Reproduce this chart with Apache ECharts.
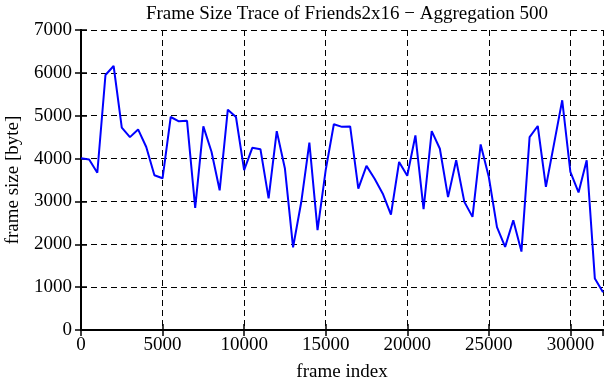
<!DOCTYPE html>
<html>
<head>
<meta charset="utf-8">
<script src="https://cdn.jsdelivr.net/npm/echarts@6/dist/echarts.min.js"></script>
<style>
  html, body { margin: 0; padding: 0; background: #fff; }
  #chart { width: 611px; height: 380px; }
</style>
</head>
<body>
<div id="chart"></div>
<script>
    'use strict'

    /* Chart data */
    var step = 500;
    var frameSize = [
        4010, 3980, 3670, 5950, 6160, 4720, 4500, 4680, 4270, 3610,
        3540, 4970, 4870, 4880, 2850, 4750, 4160, 3260, 5140, 4970,
        3730, 4250, 4220, 3070, 4640, 3770, 1930, 2980, 4370, 2330,
        3730, 4800, 4740, 4750, 3300, 3830, 3530, 3180, 2690, 3920,
        3600, 4540, 2820, 4640, 4230, 3100, 3960, 2990, 2640, 4330,
        3570, 2400, 1940, 2560, 1830, 4500, 4760, 3340, 4350, 5360,
        3690, 3210, 3960, 1200, 880
    ];
    var points = frameSize.map(function (v, i) { return [i * step, v]; });

    var serif = '"Liberation Serif", "DejaVu Serif", serif';
    var plain = function (v) { return String(v); };

    var chart = echarts.init(document.getElementById('chart'));

    var option = {
        animation: false,
        title: {
            text: 'Frame Size Trace of Friends2x16 \u2212 Aggregation 500',
            left: 342,
            textAlign: 'center',
            top: 0,
            textStyle: {
                fontFamily: serif,
                fontSize: 19,
                fontWeight: 'normal',
                color: '#000'
            }
        },
        grid: {
            left: 81,
            right: 8,
            top: 30,
            bottom: 50,
            containLabel: false,
            outerBoundsMode: 'none'
        },
        xAxis: [{
            type: 'value',
            min: 0,
            max: 32000,
            interval: 5000,
            name: 'frame index',
            nameLocation: 'middle',
            nameGap: 33,
            nameTextStyle: { fontFamily: serif, fontSize: 19, color: '#000' },
            axisLine: { lineStyle: { color: '#000', width: 2 } },
            axisTick: { inside: true, length: 6, lineStyle: { color: '#000', width: 1.5 } },
            axisLabel: {
                fontFamily: serif, fontSize: 19, color: '#000', margin: 6,
                showMaxLabel: false, formatter: plain
            },
            splitLine: { show: true, lineStyle: { color: '#000', type: [6, 4], width: 1 } }
        }, {
            type: 'value',
            position: 'top',
            min: 0,
            max: 32000,
            interval: 5000,
            axisLine: { show: true, lineStyle: { color: '#000', width: 2 } },
            axisTick: { inside: true, length: 6, lineStyle: { color: '#000', width: 1.5 } },
            axisLabel: { show: false },
            splitLine: { show: false }
        }],
        yAxis: [{
            type: 'value',
            min: 0,
            max: 7000,
            interval: 1000,
            name: 'frame size [byte]',
            nameLocation: 'middle',
            nameGap: 58,
            nameTextStyle: { fontFamily: serif, fontSize: 19, color: '#000' },
            axisLine: { show: true, lineStyle: { color: '#000', width: 2 } },
            axisTick: { show: true, inside: true, length: 6, lineStyle: { color: '#000', width: 1.5 } },
            axisLabel: { fontFamily: serif, fontSize: 19, color: '#000', margin: 9, formatter: plain },
            splitLine: { show: true, lineStyle: { color: '#000', type: [6, 4], width: 1 } }
        }, {
            type: 'value',
            position: 'right',
            min: 0,
            max: 7000,
            interval: 1000,
            axisLine: { show: true, lineStyle: { color: '#000', width: 2 } },
            axisTick: { show: true, inside: true, length: 6, lineStyle: { color: '#000', width: 1.5 } },
            axisLabel: { show: false },
            splitLine: { show: false }
        }],
        series: [{
            name: 'Frame Size',
            type: 'line',
            data: points,
            showSymbol: false,
            lineStyle: { color: '#0000ff', width: 2 },
            z: 5
        }]
    };

    chart.setOption(option);
</script>
</body>
</html>
